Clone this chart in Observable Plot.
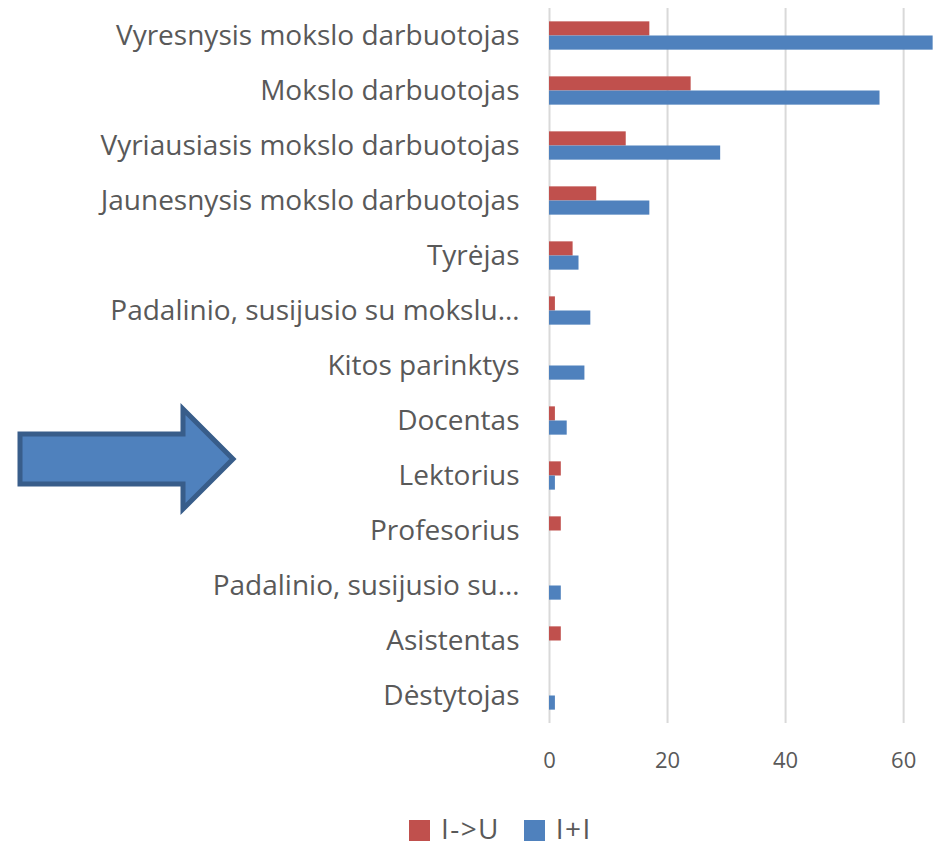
<!DOCTYPE html>
<html>
<head>
<meta charset="utf-8">
<script src="https://cdn.jsdelivr.net/npm/d3@7"></script>
<script src="https://cdn.jsdelivr.net/npm/@observablehq/plot@0.6"></script>
<style>
  html, body { margin: 0; padding: 0; background: #fff; }
  #wrap { position: relative; width: 945px; height: 849px; overflow: hidden; font-family: "Open Sans", sans-serif; }
  #chart { position: absolute; left: 0; top: 0; }
  #arrow { position: absolute; left: 0; top: 0; }
  #legend { position: absolute; top: 809px; left: 409px; display: flex; gap: 24px; font-size: 28px; line-height: 38px; height: 38px; letter-spacing: 1.4px; color: #595959; white-space: nowrap; }
  .sw { display: inline-flex; align-items: center; gap: 11px; }
  .sq { width: 21px; height: 21px; display: inline-block; margin-top: 4px; }
</style>
</head>
<body>
<div id="wrap">
  <div id="chart"></div>
  <svg id="arrow" width="260" height="520">
    <polygon points="20,434 183,434 183,409 233,459 183,509 183,484 20,484" fill="#4f81bd" stroke="#385d8a" stroke-width="5" stroke-linejoin="miter"/>
  </svg>
  <div id="legend"></div>
</div>
<script>
const categories = [
  "Vyresnysis mokslo darbuotojas",
  "Mokslo darbuotojas",
  "Vyriausiasis mokslo darbuotojas",
  "Jaunesnysis mokslo darbuotojas",
  "Tyrėjas",
  "Padalinio, susijusio su mokslu…",
  "Kitos parinktys",
  "Docentas",
  "Lektorius",
  "Profesorius",
  "Padalinio, susijusio su…",
  "Asistentas",
  "Dėstytojas"
];
const seriesNames = ["I->U", "I+I"];
const valuesIU = [17, 24, 13, 8, 4, 1, 0, 1, 2, 2, 0, 2, 0];
const valuesII = [65, 56, 29, 17, 5, 7, 6, 3, 1, 0, 2, 0, 1];
const xTicks = [0, 20, 40, 60];
const colors = ["#c0504d", "#4f81bd"];

const rowsIU = categories.map((c, i) => ({category: c, value: valuesIU[i], series: seriesNames[0]}));
const rowsII = categories.map((c, i) => ({category: c, value: valuesII[i], series: seriesNames[1]}));

const band = 55;
const half = 14.15;
const pad = (band - 2 * half) / 2;

const chart = Plot.plot({
  width: 945,
  height: 790,
  marginLeft: 549,
  marginRight: 10,
  marginTop: 8,
  marginBottom: 67,
  style: {fontFamily: "Open Sans, sans-serif", color: "#595959", background: "transparent"},
  x: {domain: [0, 65.4], ticks: xTicks},
  y: {domain: categories, padding: 0},
  color: {domain: seriesNames, range: colors},
  marks: [
    Plot.gridX(xTicks, {stroke: "#d9d9d9", strokeOpacity: 1, strokeWidth: 2}),
    Plot.barX(rowsIU, {x: "value", y: "category", fill: "series", insetTop: pad, insetBottom: pad + half}),
    Plot.barX(rowsII, {x: "value", y: "category", fill: "series", insetTop: pad + half, insetBottom: pad}),
    Plot.axisY({tickSize: 0, tickPadding: 30, fontSize: 28, fill: "#595959", label: null}),
    Plot.axisX(xTicks, {tickSize: 0, tickPadding: 29, fontSize: 22, fill: "#595959", label: null})
  ]
});
document.getElementById("chart").appendChild(chart);

const legend = document.getElementById("legend");
seriesNames.forEach((s, i) => {
  const item = document.createElement("span");
  item.className = "sw";
  const sq = document.createElement("span");
  sq.className = "sq";
  sq.style.background = colors[i];
  item.appendChild(sq);
  item.appendChild(document.createTextNode(s));
  legend.appendChild(item);
});
</script>
</body>
</html>
